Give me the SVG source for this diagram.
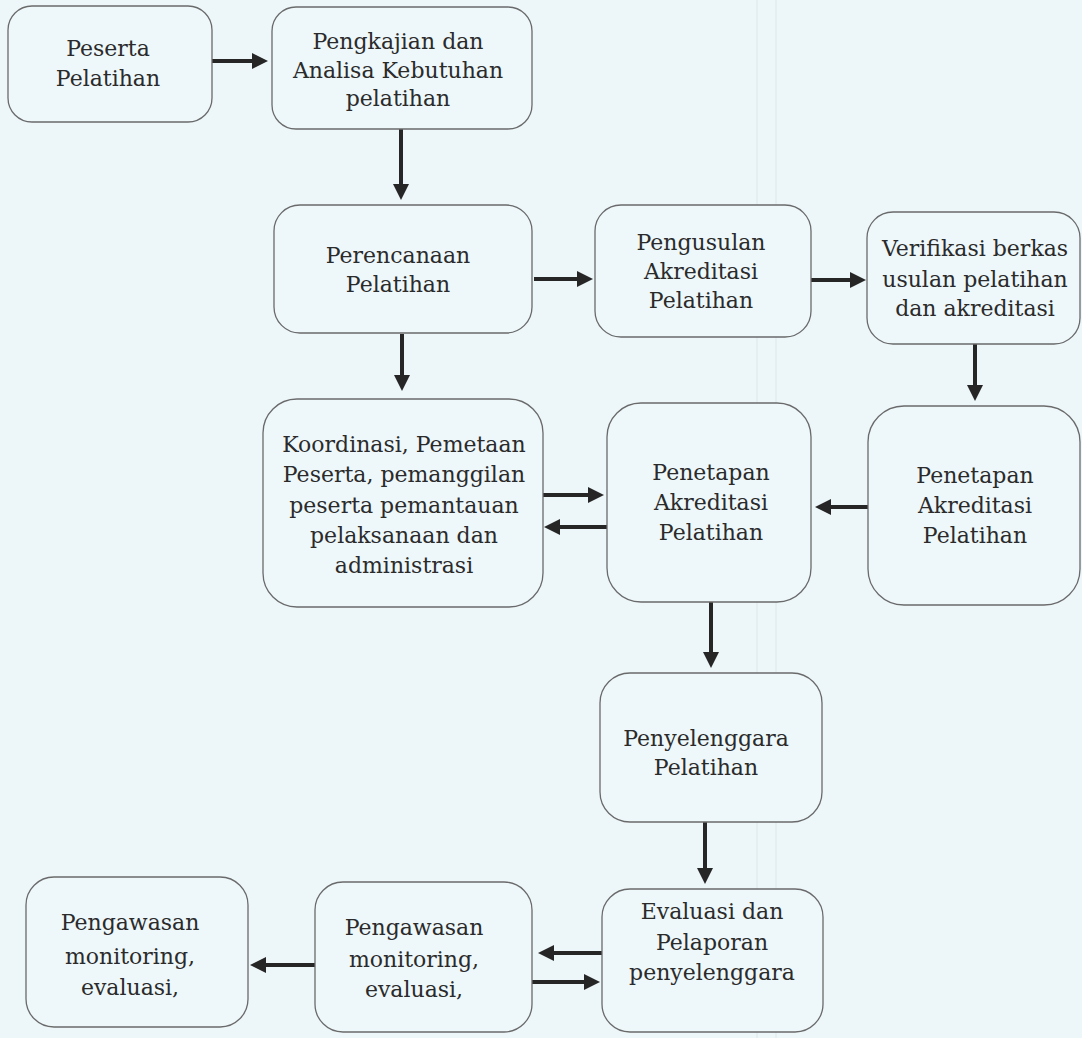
<svg xmlns="http://www.w3.org/2000/svg" width="1082" height="1038" viewBox="0 0 1082 1038">
  <style>
    .box { fill: #eef8fb; stroke: #6a6a6a; stroke-width: 1.3; }
    .lbl { font-family: "DejaVu Serif", "Liberation Serif", serif; font-size: 22px; fill: #2b2b2b; text-anchor: middle; }
    .arrow { stroke: #262626; stroke-width: 4; fill: none; marker-end: url(#head); }
    .scan { stroke: #d3dcdf; stroke-width: 1; opacity: 0.6; }
  </style>
  <defs>
    <marker id="head" markerUnits="userSpaceOnUse" markerWidth="16" markerHeight="16" viewBox="0 0 16 16" refX="4" refY="8" orient="auto">
      <path d="M0,0 L16,8 L0,16 z" fill="#262626"/>
    </marker>
  </defs>

  <!-- paper background -->
  <rect x="0" y="0" width="1082" height="1038" fill="#edf7fa"/>
  <line class="scan" x1="757" y1="0" x2="757" y2="1038"/>
  <line class="scan" x1="776" y1="0" x2="776" y2="1038"/>

  <!-- connectors -->
  <g id="connectors">
    <line class="arrow" x1="212" y1="61" x2="256" y2="61"/>
    <line class="arrow" x1="401" y1="129" x2="401" y2="188"/>
    <line class="arrow" x1="534" y1="279" x2="581" y2="279"/>
    <line class="arrow" x1="811" y1="280" x2="854" y2="280"/>
    <line class="arrow" x1="975" y1="344" x2="975" y2="389"/>
    <line class="arrow" x1="868" y1="507" x2="827" y2="507"/>
    <line class="arrow" x1="402" y1="334" x2="402" y2="379"/>
    <line class="arrow" x1="543" y1="495" x2="592" y2="495"/>
    <line class="arrow" x1="608" y1="527" x2="556" y2="527"/>
    <line class="arrow" x1="711" y1="602" x2="711" y2="656"/>
    <line class="arrow" x1="705" y1="822" x2="705" y2="872"/>
    <line class="arrow" x1="602" y1="953" x2="550" y2="953"/>
    <line class="arrow" x1="532" y1="982" x2="588" y2="982"/>
    <line class="arrow" x1="315" y1="965" x2="262" y2="965"/>
  </g>

  <g id="peserta-pelatihan">
    <rect class="box" x="8" y="6" width="204" height="116" rx="24"/>
    <text class="lbl" x="108" y="56">Peserta</text>
    <text class="lbl" x="108" y="86">Pelatihan</text>
  </g>

  <g id="pengkajian">
    <rect class="box" x="272" y="7" width="260" height="122" rx="24"/>
    <text class="lbl" x="398" y="49">Pengkajian dan</text>
    <text class="lbl" x="398" y="78">Analisa Kebutuhan</text>
    <text class="lbl" x="398" y="106">pelatihan</text>
  </g>

  <g id="perencanaan">
    <rect class="box" x="274" y="205" width="258" height="128" rx="26"/>
    <text class="lbl" x="398" y="263">Perencanaan</text>
    <text class="lbl" x="398" y="292">Pelatihan</text>
  </g>

  <g id="pengusulan">
    <rect class="box" x="595" y="205" width="216" height="132" rx="26"/>
    <text class="lbl" x="701" y="250">Pengusulan</text>
    <text class="lbl" x="701" y="279">Akreditasi</text>
    <text class="lbl" x="701" y="308">Pelatihan</text>
  </g>

  <g id="verifikasi">
    <rect class="box" x="867" y="212" width="213" height="132" rx="26"/>
    <text class="lbl" x="975" y="256">Verifikasi berkas</text>
    <text class="lbl" x="975" y="287">usulan pelatihan</text>
    <text class="lbl" x="975" y="316">dan akreditasi</text>
  </g>

  <g id="koordinasi">
    <rect class="box" x="263" y="399" width="280" height="208" rx="34"/>
    <text class="lbl" x="404" y="452">Koordinasi, Pemetaan</text>
    <text class="lbl" x="404" y="482">Peserta, pemanggilan</text>
    <text class="lbl" x="404" y="513">peserta pemantauan</text>
    <text class="lbl" x="404" y="543">pelaksanaan dan</text>
    <text class="lbl" x="404" y="573">administrasi</text>
  </g>

  <g id="penetapan-akreditasi-1">
    <rect class="box" x="607" y="403" width="204" height="199" rx="34"/>
    <text class="lbl" x="711" y="480">Penetapan</text>
    <text class="lbl" x="711" y="510">Akreditasi</text>
    <text class="lbl" x="711" y="540">Pelatihan</text>
  </g>

  <g id="penetapan-akreditasi-2">
    <rect class="box" x="868" y="406" width="212" height="199" rx="36"/>
    <text class="lbl" x="975" y="483">Penetapan</text>
    <text class="lbl" x="975" y="513">Akreditasi</text>
    <text class="lbl" x="975" y="543">Pelatihan</text>
  </g>

  <g id="penyelenggara">
    <rect class="box" x="600" y="673" width="222" height="149" rx="30"/>
    <text class="lbl" x="706" y="746">Penyelenggara</text>
    <text class="lbl" x="706" y="775">Pelatihan</text>
  </g>

  <g id="evaluasi">
    <rect class="box" x="602" y="889" width="221" height="143" rx="28"/>
    <text class="lbl" x="712" y="919">Evaluasi dan</text>
    <text class="lbl" x="712" y="950">Pelaporan</text>
    <text class="lbl" x="712" y="980">penyelenggara</text>
  </g>

  <g id="pengawasan-2">
    <rect class="box" x="315" y="882" width="217" height="150" rx="28"/>
    <text class="lbl" x="414" y="935">Pengawasan</text>
    <text class="lbl" x="414" y="967">monitoring,</text>
    <text class="lbl" x="414" y="997">evaluasi,</text>
  </g>

  <g id="pengawasan-1">
    <rect class="box" x="26" y="877" width="222" height="150" rx="28"/>
    <text class="lbl" x="130" y="930">Pengawasan</text>
    <text class="lbl" x="130" y="964">monitoring,</text>
    <text class="lbl" x="130" y="995">evaluasi,</text>
  </g>
</svg>
